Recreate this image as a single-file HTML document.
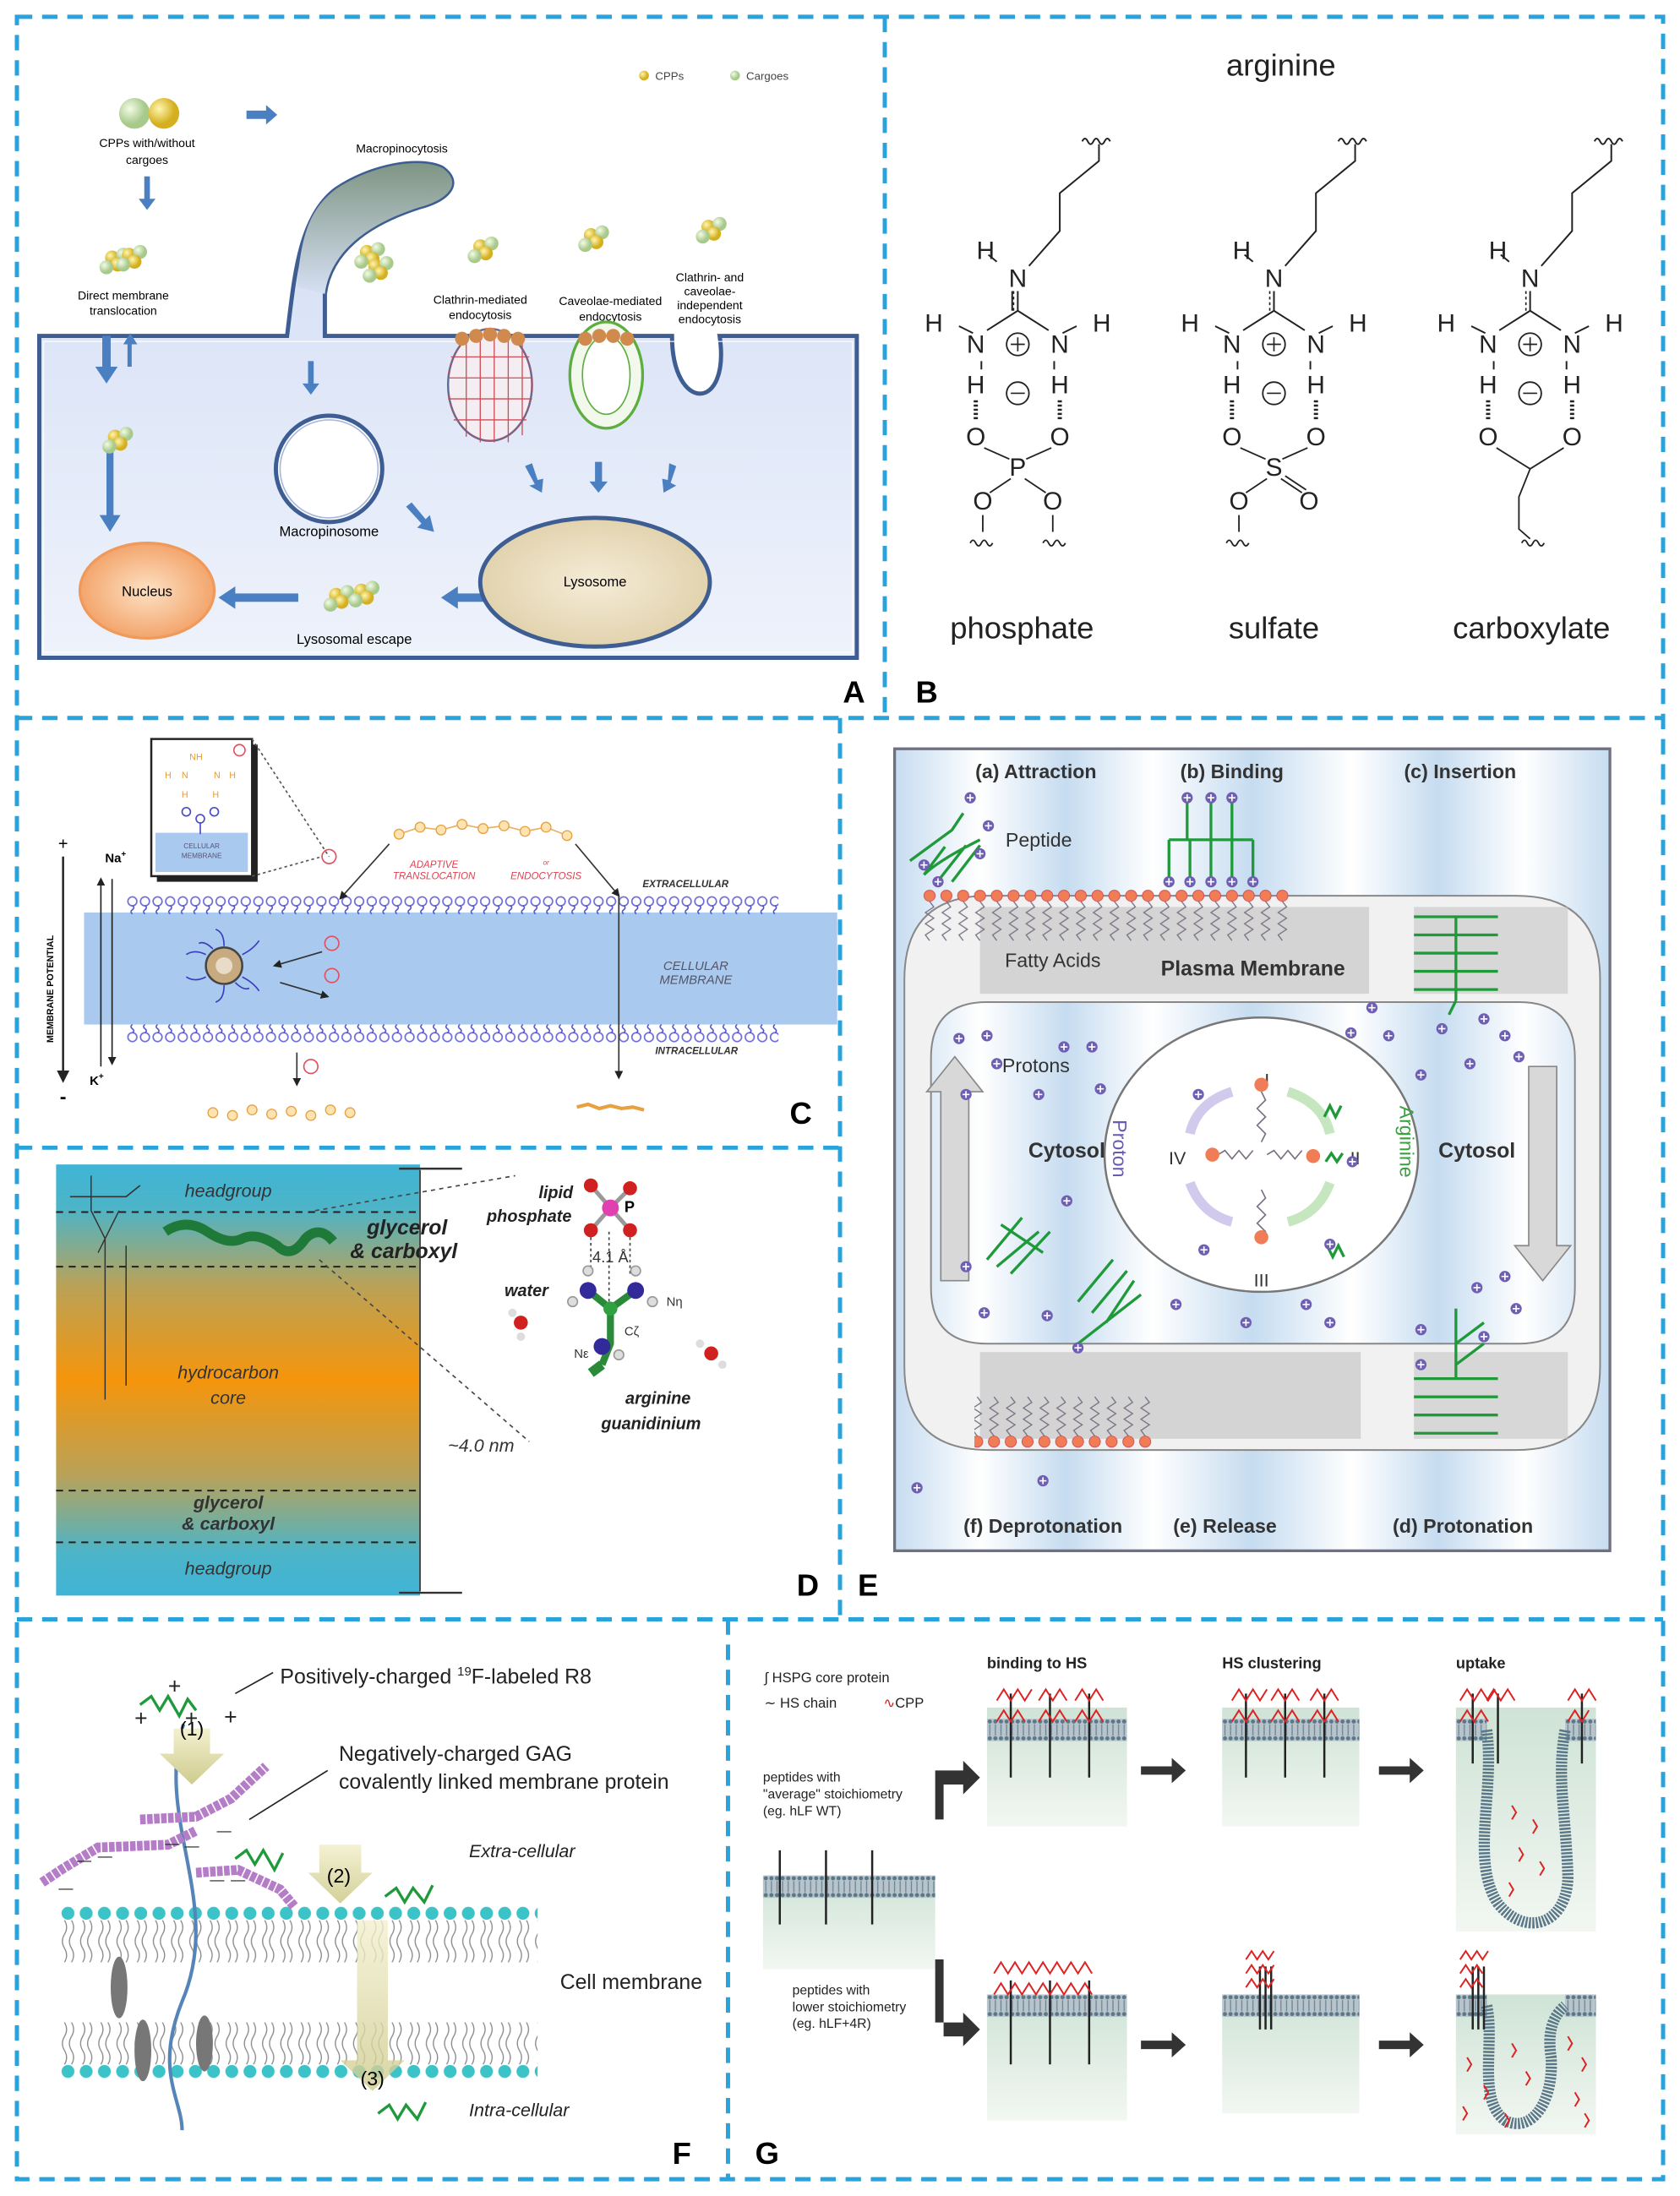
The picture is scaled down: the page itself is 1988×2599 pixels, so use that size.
<!DOCTYPE html>
<html><head><meta charset="utf-8"><style>
html,body{margin:0;padding:0;background:#fff}
svg{display:block}
text{font-family:"Liberation Sans",Arial,sans-serif}
</style></head><body>
<svg width="1988" height="2599" viewBox="0 0 1200 1569" xmlns="http://www.w3.org/2000/svg">
<defs>
<linearGradient id="cellg" x1="0" y1="0" x2="0" y2="1"><stop offset="0" stop-color="#d3def5"/><stop offset="1" stop-color="#eef2fb"/></linearGradient>
<linearGradient id="tubeg" x1="0" y1="0" x2="0" y2="1"><stop offset="0" stop-color="#7f9584"/><stop offset="1" stop-color="#d6e0f3"/></linearGradient>
<radialGradient id="nucg"><stop offset="0" stop-color="#fde1c4"/><stop offset="1" stop-color="#f3a56c"/></radialGradient>
<radialGradient id="lysg"><stop offset="0" stop-color="#f5ecd7"/><stop offset="1" stop-color="#e2d3ae"/></radialGradient>
<radialGradient id="yb" cx=".35" cy=".35"><stop offset="0" stop-color="#fff6b0"/><stop offset="1" stop-color="#d4b020"/></radialGradient>
<radialGradient id="gb" cx=".35" cy=".35"><stop offset="0" stop-color="#f4fbe6"/><stop offset="1" stop-color="#a7c98a"/></radialGradient>
<linearGradient id="dg" x1="0" y1="0" x2="0" y2="1"><stop offset="0" stop-color="#40b4d6"/><stop offset=".1" stop-color="#4cb4c8"/><stop offset=".28" stop-color="#b9a258"/><stop offset=".5" stop-color="#f5950c"/><stop offset=".72" stop-color="#b9a258"/><stop offset=".9" stop-color="#4cb4c8"/><stop offset="1" stop-color="#40b4d6"/></linearGradient>
<linearGradient id="eg" x1="0" y1="0" x2="1" y2="0"><stop offset="0" stop-color="#c6dcf0"/><stop offset=".12" stop-color="#ffffff"/><stop offset=".24" stop-color="#c6dcf0"/><stop offset=".36" stop-color="#ffffff"/><stop offset=".5" stop-color="#c6dcf0"/><stop offset=".64" stop-color="#ffffff"/><stop offset=".76" stop-color="#c6dcf0"/><stop offset=".88" stop-color="#ffffff"/><stop offset="1" stop-color="#c6dcf0"/></linearGradient>
<linearGradient id="gg" x1="0" y1="0" x2="0" y2="1"><stop offset="0" stop-color="#cfe3d6"/><stop offset="1" stop-color="#f2f7f2"/></linearGradient>
<linearGradient id="ya" x1="0" y1="0" x2="0" y2="1"><stop offset="0" stop-color="#f3f0cf"/><stop offset="1" stop-color="#cfcb8e"/></linearGradient>
<pattern id="hc" width="9" height="14" patternUnits="userSpaceOnUse"><circle cx="4.5" cy="4" r="3.2" fill="#fff" stroke="#6a6ad8" stroke-width="1"/><path d="M4.5 7 q2 1.5 0 3 q-2 1.5 0 3" fill="none" stroke="#4b4bc8" stroke-width=".9"/></pattern>
<pattern id="hcb" width="9" height="14" patternUnits="userSpaceOnUse"><circle cx="4.5" cy="10" r="3.2" fill="#fff" stroke="#6a6ad8" stroke-width="1"/><path d="M4.5 7 q2 -1.5 0 -3 q-2 -1.5 0 -3" fill="none" stroke="#4b4bc8" stroke-width=".9"/></pattern>
<pattern id="hf" width="13" height="45" patternUnits="userSpaceOnUse"><circle cx="6.5" cy="5" r="4.6" fill="#3cc3c8"/><path d="M4 10 q3 5 0 10 q-3 5 0 10 q3 5 0 10 M9 10 q3 5 0 10 q-3 5 0 10 q3 5 0 10" fill="none" stroke="#888" stroke-width=".8"/></pattern>
<pattern id="hfb" width="13" height="45" patternUnits="userSpaceOnUse"><circle cx="6.5" cy="40" r="4.6" fill="#3cc3c8"/><path d="M4 35 q3 -5 0 -10 q-3 -5 0 -10 q3 -5 0 -10 M9 35 q3 -5 0 -10 q-3 -5 0 -10 q3 -5 0 -10" fill="none" stroke="#888" stroke-width=".8"/></pattern>
<pattern id="oh" width="12" height="50" patternUnits="userSpaceOnUse"><circle cx="6" cy="5" r="4" fill="#f07d55" stroke="#c45" stroke-width=".5"/><path d="M6 9 l3 4 -6 4 6 4 -6 4 6 4 -6 4 3 4" fill="none" stroke="#7a7082" stroke-width=".8"/></pattern>
<pattern id="mb" width="4" height="16" patternUnits="userSpaceOnUse"><rect width="4" height="16" fill="#b8c4cc"/><circle cx="2" cy="2" r="1.5" fill="#5b7888"/><circle cx="2" cy="14" r="1.5" fill="#5b7888"/><line x1="2" y1="4" x2="2" y2="12" stroke="#6d8592" stroke-width=".8"/></pattern>
<marker id="ar" viewBox="0 0 10 10" refX="8" refY="5" markerWidth="6" markerHeight="6" orient="auto"><path d="M0 0 L10 5 L0 10z" fill="#222"/></marker>
<g id="ball3"><circle cx="0" cy="0" r="5" fill="url(#yb)"/><circle cx="8" cy="-2" r="5" fill="url(#gb)"/><circle cx="4" cy="5" r="5" fill="url(#yb)"/><circle cx="-4" cy="7" r="5" fill="url(#gb)"/></g>
<g id="pr"><circle r="4" fill="#6e5fb2"/><path d="M-2.5 0h5M0 -2.5v5" stroke="#fff" stroke-width="1"/></g>
</defs>

<!-- DASHED FRAME -->
<g fill="none" stroke="#29a3dc" stroke-width="3" stroke-dasharray="11 7">
<rect x="12" y="12" width="1176" height="1545"/>
<line x1="632" y1="12" x2="632" y2="510"/>
<line x1="12" y1="513" x2="1188" y2="513"/>
<line x1="600" y1="513" x2="600" y2="1155"/>
<line x1="12" y1="820" x2="600" y2="820"/>
<line x1="12" y1="1157" x2="1188" y2="1157"/>
<line x1="520" y1="1157" x2="520" y2="1557"/>
</g>

<!-- PANEL A -->
<g>
<circle cx="460" cy="54" r="3.5" fill="url(#yb)"/><text x="468" y="57" font-size="8" fill="#444">CPPs</text>
<circle cx="525" cy="54" r="3.5" fill="url(#gb)"/><text x="533" y="57" font-size="8" fill="#444">Cargoes</text>
<circle cx="96" cy="81" r="11" fill="url(#gb)"/><circle cx="117" cy="81" r="11" fill="url(#yb)"/>
<text x="105" y="105" font-size="8.5" text-anchor="middle">CPPs with/without</text><text x="105" y="117" font-size="8.5" text-anchor="middle">cargoes</text>
<g fill="#4a7fc1">
<path d="M176 79h14v-4l8 7-8 7v-4h-14z"/>
<path d="M103 126h4v16h4l-6 8-6-8h4z"/>
</g>
<use href="#ball3" x="80" y="184"/><use href="#ball3" x="92" y="182"/>
<text x="88" y="214" font-size="8.5" text-anchor="middle">Direct membrane</text><text x="88" y="225" font-size="8.5" text-anchor="middle">translocation</text>
<path d="M28 240 H205 C210 200 213 155 240 135 C265 118 300 112 316 120 C330 130 322 142 300 148 C262 160 236 180 232 210 L232 240 H480 C480 295 522 295 514 240 H612 V470 H28 Z" fill="url(#cellg)" stroke="#3d5d93" stroke-width="3"/>
<path d="M240 135 C265 118 300 112 316 120 C330 130 322 142 300 148 C262 160 236 180 232 210 L212 205 C215 170 220 150 240 135Z" fill="url(#tubeg)"/>
<path d="M31 244 H609 V466 H31 Z" fill="none" stroke="#fff" stroke-width="1" opacity=".7"/>
<text x="287" y="109" font-size="8.5" text-anchor="middle">Macropinocytosis</text>
<use href="#ball3" x="262" y="180"/><use href="#ball3" x="268" y="190"/>
<use href="#ball3" x="343" y="176"/><use href="#ball3" x="422" y="168"/><use href="#ball3" x="506" y="162"/>
<text x="343" y="217" font-size="8.5" text-anchor="middle">Clathrin-mediated</text><text x="343" y="228" font-size="8.5" text-anchor="middle">endocytosis</text>
<text x="436" y="218" font-size="8.5" text-anchor="middle">Caveolae-mediated</text><text x="436" y="229" font-size="8.5" text-anchor="middle">endocytosis</text>
<text x="507" y="201" font-size="8.5" text-anchor="middle">Clathrin- and</text><text x="507" y="211" font-size="8.5" text-anchor="middle">caveolae-</text><text x="507" y="221" font-size="8.5" text-anchor="middle">independent</text><text x="507" y="231" font-size="8.5" text-anchor="middle">endocytosis</text>
<ellipse cx="350" cy="275" rx="30" ry="40" fill="#f4eef3" stroke="#d24a55" stroke-width="1.5"/>
<g fill="none" stroke="#d24a55" stroke-width=".8"><path d="M322 255h56M320 270h60M320 285h60M324 300h52M333 240v72M343 238v78M353 238v78M363 240v76M373 245v66"/></g>
<ellipse cx="350" cy="275" rx="30" ry="40" fill="none" stroke="#5a6f98" stroke-width="1"/>
<g fill="#d08a4d"><circle cx="330" cy="242" r="5"/><circle cx="340" cy="240" r="5"/><circle cx="350" cy="239" r="5"/><circle cx="360" cy="240" r="5"/><circle cx="370" cy="242" r="5"/></g>
<ellipse cx="433" cy="268" rx="26" ry="38" fill="#f3f8ec" stroke="#5cae3e" stroke-width="2"/>
<ellipse cx="433" cy="268" rx="17" ry="28" fill="#fff" stroke="#5cae3e" stroke-width="1"/>
<g fill="#d08a4d"><circle cx="418" cy="242" r="5"/><circle cx="428" cy="240" r="5"/><circle cx="438" cy="240" r="5"/><circle cx="448" cy="242" r="5"/></g>
<g fill="#4a7fc1">
<path d="M73 240h6v22h5l-8 12-8-12h5z"/><path d="M91 262h3v-16h4l-5-8-5 8h3z"/>
<path d="M220 258h4v16h4l-6 8-6-8h4z"/>
<path d="M76 318h5v50h5l-7.5 12-7.5-12h5z"/>
<path d="M375 333l5-2 4 12 4-1-1 10-9-5 4-1z"/><path d="M425 330h5v14h4l-6.5 8-6.5-8h4z"/><path d="M478 331l5 2-4 12 4 2-9 5 -1-10 4 1z"/>
<path d="M290 362l4-3 10 12 3-3 3 12-12-3 3-3z"/>
<path d="M355 424v6h-28v5l-12-8 12-8v5z"/><path d="M213 424v6h-45v5l-12-8 12-8v5z"/>
</g>
<use href="#ball3" x="82" y="312"/>
<use href="#ball3" x="240" y="425"/><use href="#ball3" x="258" y="422"/>
<circle cx="235" cy="335" r="38" fill="#fff" stroke="#3d5d93" stroke-width="3"/>
<circle cx="235" cy="335" r="35" fill="none" stroke="#a8b8dc" stroke-width="1"/>
<text x="235" y="383" font-size="10" text-anchor="middle">Macropinosome</text>
<ellipse cx="105" cy="422" rx="48" ry="34" fill="url(#nucg)" stroke="#ef9a5a" stroke-width="2"/>
<text x="105" y="426" font-size="10" text-anchor="middle">Nucleus</text>
<ellipse cx="425" cy="416" rx="82" ry="46" fill="url(#lysg)" stroke="#3d5d93" stroke-width="3"/>
<text x="425" y="419" font-size="10" text-anchor="middle">Lysosome</text>
<text x="253" y="460" font-size="10" text-anchor="middle">Lysosomal escape</text>
<text x="610" y="502" font-size="22" font-weight="bold" text-anchor="middle">A</text>
</g>

<!-- PANEL B -->
<text x="915" y="54" font-size="22" text-anchor="middle" fill="#222">arginine</text>
<g transform="translate(727,0)" font-size="18" fill="#222" text-anchor="middle">
<g fill="none" stroke="#222" stroke-width="1.2"><path d="M8 190 L30 165 V138 L58 115 V103"/><path d="M46 101 q2 -4 4 0 q2 4 4 0 q2 -4 4 0 q2 4 4 0 q2 -4 4 0"/><path d="M-15 187 l-6 -5 M0 208 V222 M-4 208 V222 M0 222 L-22 236 M0 222 L22 236 M-26 258 V264 M26 258 V264 M-42 233 l10 5 M42 233 l-10 5"/></g>
<path d="M-3 208 V222" stroke="#222" stroke-dasharray="2 2"/>
<text x="-23" y="185">H</text><text x="0" y="205">N</text>
<text x="-30" y="252">N</text><text x="30" y="252">N</text><text x="-60" y="237">H</text><text x="60" y="237">H</text>
<circle cx="0" cy="246" r="8" fill="none" stroke="#222" stroke-width="1.1"/><path d="M-5 246h10M0 241v10" stroke="#222"/>
<text x="-30" y="281">H</text><text x="30" y="281">H</text>
<path d="M-30 286V300M30 286V300" stroke="#222" stroke-width="3" stroke-dasharray="1.5 1.5"/>
<text x="-30" y="318">O</text><text x="30" y="318">O</text>
<circle cx="0" cy="281" r="8" fill="none" stroke="#222" stroke-width="1.1"/><path d="M-5 281h10" stroke="#222"/>
<text x="0" y="340">P</text>
<g stroke="#222" fill="none" stroke-width="1.1"><path d="M-24 320 L-6 328 M24 320 L6 328 M-5 342 L-20 352 M5 342 L20 352 M-25 368 V380 M25 368 V380"/><path d="M-34 388 q2 -4 4 0 q2 4 4 0 q2 -4 4 0 q2 4 4 0 M18 388 q2 -4 4 0 q2 4 4 0 q2 -4 4 0 q2 4 4 0"/></g>
<text x="-25" y="364">O</text><text x="25" y="364">O</text>
</g>
<g transform="translate(910,0)" font-size="18" fill="#222" text-anchor="middle">
<g fill="none" stroke="#222" stroke-width="1.2"><path d="M8 190 L30 165 V138 L58 115 V103"/><path d="M46 101 q2 -4 4 0 q2 4 4 0 q2 -4 4 0 q2 4 4 0 q2 -4 4 0"/><path d="M-15 187 l-6 -5 M0 208 V222 M0 222 L-22 236 M0 222 L22 236 M-26 258 V264 M26 258 V264 M-42 233 l10 5 M42 233 l-10 5"/></g>
<path d="M-3 208 V222" stroke="#222" stroke-dasharray="2 2"/>
<text x="-23" y="185">H</text><text x="0" y="205">N</text>
<text x="-30" y="252">N</text><text x="30" y="252">N</text><text x="-60" y="237">H</text><text x="60" y="237">H</text>
<circle cx="0" cy="246" r="8" fill="none" stroke="#222" stroke-width="1.1"/><path d="M-5 246h10M0 241v10" stroke="#222"/>
<text x="-30" y="281">H</text><text x="30" y="281">H</text>
<path d="M-30 286V300M30 286V300" stroke="#222" stroke-width="3" stroke-dasharray="1.5 1.5"/>
<text x="-30" y="318">O</text><text x="30" y="318">O</text>
<circle cx="0" cy="281" r="8" fill="none" stroke="#222" stroke-width="1.1"/><path d="M-5 281h10" stroke="#222"/>
<text x="0" y="340">S</text>
<g stroke="#222" fill="none" stroke-width="1.1"><path d="M-24 320 L-6 328 M24 320 L6 328 M-5 342 L-20 352 M5 342 L20 352 M8 340 L23 350 M-25 368 V380"/><path d="M-34 388 q2 -4 4 0 q2 4 4 0 q2 -4 4 0 q2 4 4 0"/></g>
<text x="-25" y="364">O</text><text x="25" y="364">O</text>
</g>
<g transform="translate(1093,0)" font-size="18" fill="#222" text-anchor="middle">
<g fill="none" stroke="#222" stroke-width="1.2"><path d="M8 190 L30 165 V138 L58 115 V103"/><path d="M46 101 q2 -4 4 0 q2 4 4 0 q2 -4 4 0 q2 4 4 0 q2 -4 4 0"/><path d="M-15 187 l-6 -5 M0 208 V222 M0 222 L-22 236 M0 222 L22 236 M-26 258 V264 M26 258 V264 M-42 233 l10 5 M42 233 l-10 5"/></g>
<path d="M-3 208 V222" stroke="#222" stroke-dasharray="2 2"/>
<text x="-23" y="185">H</text><text x="0" y="205">N</text>
<text x="-30" y="252">N</text><text x="30" y="252">N</text><text x="-60" y="237">H</text><text x="60" y="237">H</text>
<circle cx="0" cy="246" r="8" fill="none" stroke="#222" stroke-width="1.1"/><path d="M-5 246h10M0 241v10" stroke="#222"/>
<text x="-30" y="281">H</text><text x="30" y="281">H</text>
<path d="M-30 286V300M30 286V300" stroke="#222" stroke-width="3" stroke-dasharray="1.5 1.5"/>
<text x="-30" y="318">O</text><text x="30" y="318">O</text>
<circle cx="0" cy="281" r="8" fill="none" stroke="#222" stroke-width="1.1"/><path d="M-5 281h10" stroke="#222"/>
<g stroke="#222" fill="none" stroke-width="1.1"><path d="M-24 320 L0 335 L24 320 M0 335 L-8 355 V378 L0 385"/><path d="M-6 388 q2 -4 4 0 q2 4 4 0 q2 -4 4 0 q2 4 4 0"/></g>
</g>
<g font-size="22" fill="#222" text-anchor="middle"><text x="730" y="456">phosphate</text><text x="910" y="456">sulfate</text><text x="1094" y="456">carboxylate</text></g>
<text x="662" y="502" font-size="22" font-weight="bold" text-anchor="middle">B</text>

<!-- PANEL C -->
<g>
<rect x="60" y="652" width="538" height="80" fill="#a9c9ee"/>
<rect transform="translate(90,640)" width="466" height="14" fill="url(#hc)"/>
<rect transform="translate(90,731)" width="466" height="14" fill="url(#hcb)"/>
<rect x="112" y="532" width="72" height="98" fill="#222"/>
<rect x="108" y="528" width="72" height="98" fill="#fff" stroke="#222" stroke-width="1.5"/>
<rect x="111" y="595" width="66" height="28" fill="#a9c9ee"/>
<text x="144" y="606" font-size="5" text-anchor="middle" fill="#557">CELLULAR</text><text x="144" y="613" font-size="5" text-anchor="middle" fill="#557">MEMBRANE</text>
<g font-size="6.5" fill="#e89a30" text-anchor="middle"><text x="140" y="543">NH</text><text x="120" y="556">H</text><text x="132" y="556">N</text><text x="155" y="556">N</text><text x="166" y="556">H</text><text x="132" y="570">H</text><text x="154" y="570">H</text></g>
<g fill="none" stroke="#4b4bc8" stroke-width="1"><circle cx="133" cy="580" r="3"/><circle cx="153" cy="580" r="3"/><circle cx="143" cy="585" r="3"/><path d="M143 588v8"/></g>
<circle cx="171" cy="536" r="4" fill="none" stroke="#e05060"/>
<path d="M180 528 L235 612 M180 626 L230 612" stroke="#555" stroke-dasharray="2 2" fill="none"/>
<circle cx="235" cy="612" r="5" fill="none" stroke="#e05060"/>
<g fill="none" stroke="#e8b060" stroke-width="1"><path d="M285 596 L300 591 L315 593 L330 589 L345 592 L360 590 L375 594 L390 591 L405 597"/></g>
<g fill="#fde3b0" stroke="#e8a040" stroke-width=".8"><circle cx="285" cy="596" r="3.5"/><circle cx="300" cy="591" r="3.5"/><circle cx="315" cy="593" r="3.5"/><circle cx="330" cy="589" r="3.5"/><circle cx="345" cy="592" r="3.5"/><circle cx="360" cy="590" r="3.5"/><circle cx="375" cy="594" r="3.5"/><circle cx="390" cy="591" r="3.5"/><circle cx="405" cy="597" r="3.5"/></g>
<path d="M278 603 L243 642" stroke="#333" marker-end="url(#ar)"/>
<path d="M411 603 L442 640" stroke="#333" marker-end="url(#ar)"/>
<line x1="442" y1="640" x2="442" y2="770" stroke="#333" marker-end="url(#ar)"/>
<g font-size="7" font-style="italic" fill="#e04050" text-anchor="middle"><text x="310" y="620">ADAPTIVE</text><text x="310" y="628">TRANSLOCATION</text><text x="390" y="618" font-size="5">or</text><text x="390" y="628">ENDOCYTOSIS</text></g>
<g font-size="7" font-style="italic" font-weight="bold" fill="#333"><text x="459" y="634">EXTRACELLULAR</text><text x="468" y="753">INTRACELLULAR</text></g>
<g font-size="9" font-style="italic" fill="#556" text-anchor="middle"><text x="497" y="693">CELLULAR</text><text x="497" y="703">MEMBRANE</text></g>
<circle cx="160" cy="690" r="13" fill="#c8aa80" stroke="#444" stroke-width="1.5"/><circle cx="160" cy="690" r="6" fill="#e8dcc8"/>
<g fill="none" stroke="#3b3bc0" stroke-width="1"><path d="M147 682 q-8 -4 -14 0 M147 698 q-8 4 -14 0 M160 676 q0 -10 -6 -12 M160 704 q0 10 -6 12 M173 682 q8 -4 12 -10 M173 698 q8 4 12 10 M152 678 q-6 -6 -10 -4 M168 702 q6 6 10 4"/></g>
<path d="M230 680 L196 690" stroke="#333" marker-end="url(#ar)"/><path d="M200 702 L234 712" stroke="#333" marker-end="url(#ar)"/>
<circle cx="237" cy="674" r="5" fill="none" stroke="#e05060"/><circle cx="237" cy="697" r="5" fill="none" stroke="#e05060"/>
<line x1="212" y1="752" x2="212" y2="775" stroke="#333" marker-end="url(#ar)"/><circle cx="222" cy="762" r="5" fill="none" stroke="#e05060"/>
<g fill="#fde3b0" stroke="#e8a040" stroke-width=".8"><circle cx="152" cy="795" r="3.5"/><circle cx="166" cy="797" r="3.5"/><circle cx="180" cy="793" r="3.5"/><circle cx="194" cy="796" r="3.5"/><circle cx="208" cy="794" r="3.5"/><circle cx="222" cy="797" r="3.5"/><circle cx="236" cy="793" r="3.5"/><circle cx="250" cy="795" r="3.5"/></g>
<path d="M412 791 l8 -2 8 3 8 -2 8 2 8 -1 8 2" fill="none" stroke="#e8a040" stroke-width="2.5"/>
<text x="45" y="607" font-size="12" text-anchor="middle">+</text><text x="45" y="788" font-size="14" font-weight="bold" text-anchor="middle">-</text>
<line x1="45" y1="612" x2="45" y2="772" stroke="#222" stroke-width="1.5" marker-end="url(#ar)"/>
<text transform="translate(38,745) rotate(-90)" font-size="6.5" font-weight="bold">MEMBRANE POTENTIAL</text>
<line x1="72" y1="762" x2="72" y2="628" stroke="#222" marker-end="url(#ar)"/><line x1="80" y1="628" x2="80" y2="760" stroke="#222" marker-end="url(#ar)"/>
<text x="75" y="616" font-size="9" font-weight="bold">Na<tspan font-size="6" dy="-4">+</tspan></text>
<text x="64" y="775" font-size="9" font-weight="bold">K<tspan font-size="6" dy="-4">+</tspan></text>
<text x="572" y="803" font-size="22" font-weight="bold" text-anchor="middle">C</text>
</g>

<!-- PANEL D -->
<g>
<rect x="40" y="832" width="260" height="308" fill="url(#dg)"/>
<g stroke="#222" stroke-dasharray="5 4" stroke-width="1.2"><line x1="40" y1="866" x2="300" y2="866"/><line x1="40" y1="905" x2="300" y2="905"/><line x1="40" y1="1065" x2="300" y2="1065"/><line x1="40" y1="1102" x2="300" y2="1102"/></g>
<g font-style="italic" text-anchor="middle" fill="#333"><text x="163" y="855" font-size="13">headgroup</text><text x="163" y="985" font-size="13">hydrocarbon</text><text x="163" y="1003" font-size="13">core</text><text x="163" y="1078" font-size="13" font-weight="bold">glycerol</text><text x="163" y="1093" font-size="13" font-weight="bold">&amp; carboxyl</text><text x="163" y="1125" font-size="13">headgroup</text></g>
<g font-style="italic" font-weight="bold" font-size="15" fill="#222"><text x="262" y="882">glycerol</text><text x="250" y="899">&amp; carboxyl</text></g>
<path d="M65 840 v25 l10 20 v115 M85 865 l-10 20 l-5 10 M90 890 v100" fill="none" stroke="#333" stroke-width=".9"/>
<path d="M50 855 h40 l10 -8" stroke="#333" fill="none"/>
<path d="M118 880 q15 -10 30 0 q15 10 25 5 q10 -5 25 5 q10 10 20 -5 q10 -10 20 2" fill="none" stroke="#1f7a3a" stroke-width="7"/>
<line x1="285" y1="835" x2="330" y2="835" stroke="#333" stroke-width="1.5"/><line x1="285" y1="1138" x2="330" y2="1138" stroke="#333" stroke-width="1.5"/>
<line x1="300" y1="836" x2="300" y2="1137" stroke="#333"/>
<text x="320" y="1037" font-size="13" font-style="italic" fill="#333">~4.0 nm</text>
<path d="M225 865 L368 840 M228 900 L378 1030" stroke="#444" stroke-dasharray="3 3" fill="none"/>
<g font-style="italic" font-weight="bold" font-size="12" fill="#222" text-anchor="middle"><text x="397" y="856">lipid</text><text x="378" y="873">phosphate</text><text x="376" y="926">water</text><text x="470" y="1003">arginine</text><text x="465" y="1021">guanidinium</text></g>
<text x="446" y="866" font-size="11" font-weight="bold">P</text>
<g stroke="#999" stroke-width="3"><path d="M436 863 l-14 -16 M436 863 l14 -14 M436 863 l-14 16 M436 863 l14 16"/></g>
<g stroke="#444" stroke-dasharray="2 2"><path d="M422 880 v30 M450 880 v30 M435 880 v50"/></g>
<text x="436" y="902" font-size="11" fill="#333" text-anchor="middle">4.1 Å</text>
<circle cx="436" cy="863" r="6" fill="#e040b0"/>
<g fill="#d02020"><circle cx="422" cy="847" r="5"/><circle cx="450" cy="849" r="5"/><circle cx="422" cy="879" r="5"/><circle cx="450" cy="879" r="5"/></g>
<path d="M420 922 L436 935 L454 922 M436 935 V960 L430 975" stroke="#2a8a3a" stroke-width="5" fill="none"/>
<g fill="#332a9a"><circle cx="420" cy="922" r="6"/><circle cx="454" cy="922" r="6"/><circle cx="430" cy="962" r="6"/></g>
<circle cx="436" cy="935" r="5" fill="#30a040"/><path d="M430 975 l-8 6" stroke="#2a8a3a" stroke-width="7"/>
<g fill="#ddd" stroke="#999"><circle cx="420" cy="908" r="3.5"/><circle cx="454" cy="908" r="3.5"/><circle cx="409" cy="930" r="3.5"/><circle cx="466" cy="930" r="3.5"/><circle cx="442" cy="968" r="3.5"/></g>
<circle cx="372" cy="945" r="5" fill="#d02020"/><circle cx="366" cy="938" r="3" fill="#ddd"/><circle cx="372" cy="955" r="3" fill="#ddd"/>
<circle cx="508" cy="967" r="5" fill="#d02020"/><circle cx="516" cy="975" r="3" fill="#ddd"/><circle cx="500" cy="960" r="3" fill="#ddd"/>
<text x="476" y="933" font-size="9" fill="#333">Nη</text><text x="410" y="970" font-size="9" fill="#333">Nε</text><text x="446" y="954" font-size="9" fill="#333">Cζ</text>
<text x="577" y="1140" font-size="22" font-weight="bold" text-anchor="middle">D</text>
<text x="620" y="1140" font-size="22" font-weight="bold" text-anchor="middle">E</text>
</g>

<!-- PANEL E -->
<g>
<rect x="639" y="535" width="511" height="573" fill="url(#eg)" stroke="#6f7080" stroke-width="2"/>
<path fill-rule="evenodd" d="M706 640 H1083 Q1143 640 1143 700 V976 Q1143 1036 1083 1036 H706 Q646 1036 646 976 V700 Q646 640 706 640Z M705 716 H1085 Q1125 716 1125 756 V920 Q1125 960 1085 960 H705 Q665 960 665 920 V756 Q665 716 705 716Z" fill="#f1f1f1" stroke="#888" stroke-width="1.2"/>
<rect x="700" y="648" width="278" height="62" fill="#c7c7c7" opacity=".7"/>
<rect x="700" y="966" width="272" height="62" fill="#c7c7c7" opacity=".7"/>
<rect x="1010" y="648" width="110" height="62" fill="#c7c7c7" opacity=".6"/>
<rect x="1010" y="966" width="110" height="62" fill="#c7c7c7" opacity=".6"/>
<rect transform="translate(658,635)" width="264" height="50" fill="url(#oh)"/>
<rect transform="translate(824,1035) rotate(180)" width="128" height="50" fill="url(#oh)"/>
<ellipse cx="901" cy="825" rx="112" ry="98" fill="#fff" stroke="#777" stroke-width="1.5"/>
<g font-weight="bold" font-size="14" fill="#333" text-anchor="middle"><text x="740" y="556">(a) Attraction</text><text x="880" y="556">(b) Binding</text><text x="1043" y="556">(c) Insertion</text><text x="745" y="1095">(f) Deprotonation</text><text x="875" y="1095">(e) Release</text><text x="1045" y="1095">(d) Protonation</text></g>
<g font-size="14" fill="#333" text-anchor="middle"><text x="742" y="605">Peptide</text><text x="752" y="691">Fatty Acids</text><text x="740" y="766">Protons</text></g>
<g font-size="15" font-weight="bold" fill="#333" text-anchor="middle"><text x="895" y="697">Plasma Membrane</text><text x="762" y="827">Cytosol</text><text x="1055" y="827">Cytosol</text></g>
<path d="M672 915 V780 h-10 l20 -25 20 25 h-10 V915z" fill="#d8d8d8" stroke="#888"/>
<path d="M1092 762 V890 h-10 l20 25 20 -25 h-10 V762z" fill="#d8d8d8" stroke="#888"/>
<g font-family="Liberation Serif" font-size="13" fill="#333" text-anchor="middle"><text x="905" y="776">I</text><text x="968" y="832">II</text><text x="901" y="919">III</text><text x="841" y="832">IV</text></g>
<text transform="translate(795,800) rotate(90)" font-size="14" fill="#6a5ab2">Proton</text>
<text transform="translate(1000,790) rotate(90)" font-size="14" fill="#3aa040">Arginine</text>
<g fill="none" stroke-width="7" opacity=".8"><path d="M880 780 q-25 8 -30 30" stroke="#c8bde8"/><path d="M850 845 q8 22 30 28" stroke="#c8bde8"/><path d="M920 780 q25 8 30 30" stroke="#b8e0b0"/><path d="M950 845 q-8 22 -30 28" stroke="#b8e0b0"/></g>
<g fill="none" stroke="#7a7082" stroke-width="1"><path d="M901 780 l3 6 -6 6 6 6 -6 6 6 6 -3 6"/><path d="M901 850 l3 6 -6 6 6 6 -6 6 6 6 -3 6"/><path d="M870 825 l5 -3 5 6 5 -6 5 6 5 -6"/><path d="M905 825 l5 -3 5 6 5 -6 5 6 5 -6"/></g>
<g fill="#f07d55"><circle cx="901" cy="775" r="5"/><circle cx="901" cy="884" r="5"/><circle cx="866" cy="825" r="5"/><circle cx="938" cy="826" r="5"/></g>
<g stroke="#1f9a3a" stroke-width="2" fill="none">
<path d="M660 625 l15 -20 M668 632 l22 -28 M680 630 l20 -26 M650 615 l30 -22 l8 -12 M660 625 q10 -10 40 -25"/>
<path d="M835 630 v-30 M850 630 v-30 M865 630 v-30 M880 630 v-30 M895 630 v-30 M835 600 h60 M848 600 v-30 M865 600 v-30 M880 600 v-30"/>
<path d="M1010 655 h60 M1010 668 h60 M1010 681 h60 M1010 694 h60 M1010 707 h60 M1040 655 v60 M1040 715 l-5 10"/>
<path d="M705 900 l25 -30 M712 905 l30 -25 M722 910 l28 -30 M715 875 l30 20"/>
<path d="M770 930 l25 -30 M780 938 l25 -30 M790 945 l20 -30 M770 960 l45 -35"/>
<path d="M1010 985 h60 M1010 998 h60 M1010 1011 h60 M1010 1024 h60 M1040 985 v-50 M1040 960 l20 -15 M1040 975 l20 -15"/>
<path d="M946 798 l4 -8 4 8 4 -8 M948 890 l4 8 4 -8 4 8 M947 830 l4 -6 4 6 4 -6"/>
</g>
<g>
<use href="#pr" x="660" y="618"/><use href="#pr" x="670" y="630"/><use href="#pr" x="700" y="610"/><use href="#pr" x="693" y="570"/><use href="#pr" x="706" y="590"/>
<use href="#pr" x="835" y="630"/><use href="#pr" x="850" y="630"/><use href="#pr" x="865" y="630"/><use href="#pr" x="880" y="630"/><use href="#pr" x="895" y="630"/><use href="#pr" x="848" y="570"/><use href="#pr" x="865" y="570"/><use href="#pr" x="880" y="570"/>
<use href="#pr" x="685" y="742"/><use href="#pr" x="705" y="740"/><use href="#pr" x="712" y="760"/><use href="#pr" x="760" y="748"/><use href="#pr" x="780" y="748"/><use href="#pr" x="690" y="782"/><use href="#pr" x="742" y="782"/><use href="#pr" x="786" y="778"/><use href="#pr" x="762" y="858"/><use href="#pr" x="690" y="905"/><use href="#pr" x="703" y="938"/><use href="#pr" x="748" y="940"/><use href="#pr" x="770" y="963"/><use href="#pr" x="840" y="932"/><use href="#pr" x="890" y="945"/><use href="#pr" x="933" y="932"/><use href="#pr" x="950" y="945"/>
<use href="#pr" x="980" y="720"/><use href="#pr" x="965" y="738"/><use href="#pr" x="992" y="740"/><use href="#pr" x="1030" y="735"/><use href="#pr" x="1060" y="728"/><use href="#pr" x="1075" y="740"/><use href="#pr" x="1085" y="755"/><use href="#pr" x="1050" y="760"/><use href="#pr" x="1015" y="768"/>
<use href="#pr" x="1055" y="920"/><use href="#pr" x="1075" y="912"/><use href="#pr" x="1083" y="935"/><use href="#pr" x="1015" y="950"/><use href="#pr" x="1060" y="955"/><use href="#pr" x="1015" y="975"/>
<use href="#pr" x="856" y="782"/><use href="#pr" x="966" y="830"/><use href="#pr" x="860" y="893"/><use href="#pr" x="950" y="889"/>
<use href="#pr" x="655" y="1063"/><use href="#pr" x="745" y="1058"/>
</g>
</g>

<!-- PANEL F -->
<g>
<rect transform="translate(42,1362)" width="342" height="45" fill="url(#hf)"/>
<rect transform="translate(42,1440)" width="342" height="45" fill="url(#hfb)"/>
<path d="M131 1232 C110 1300 160 1360 130 1430 C110 1480 130 1500 130 1522" fill="none" stroke="#5585b8" stroke-width="2.5"/>
<g fill="#c9b3d6" stroke="#b57cc7" stroke-width="1.5"><path d="M100 1300 L140 1298 L165 1285 L190 1262" fill="none" stroke-width="7" stroke-dasharray="4 1"/><path d="M30 1345 L45 1335 L70 1320 L120 1318 L140 1308" fill="none" stroke-width="7" stroke-dasharray="4 1"/><path d="M140 1338 L170 1336 L200 1350 L210 1362" fill="none" stroke-width="7" stroke-dasharray="4 1"/></g>
<g font-size="18" font-weight="bold" fill="#222"><text x="118" y="1316">_</text><text x="132" y="1318">_</text><text x="155" y="1307">_</text><text x="55" y="1328">_</text><text x="70" y="1325">_</text><text x="42" y="1348">_</text><text x="150" y="1342">_</text><text x="165" y="1342">_</text></g>
<path d="M124 1235 h26 v18 h10 l-23 22 -23 -22 h10z" fill="url(#ya)"/>
<text x="137" y="1240" font-size="14" text-anchor="middle">(1)</text>
<path d="M228 1318 h30 v20 h8 l-23 22 -23 -22 h8z" fill="url(#ya)" opacity=".9"/>
<text x="242" y="1345" font-size="14" text-anchor="middle">(2)</text>
<path d="M255 1372 h22 v100 h12 l-23 22 -23 -22 h12z" fill="url(#ya)" opacity=".8"/>
<text x="266" y="1490" font-size="14" text-anchor="middle">(3)</text>
<g fill="none" stroke="#1f9a3a" stroke-width="2"><path d="M100 1218 l8 -6 6 10 6 -10 8 14 6 -12 6 8"/><path d="M168 1328 l8 -6 6 10 6 -10 8 14 6 -12"/><path d="M275 1355 l8 -6 6 10 6 -10 8 10 6 -12"/><path d="M270 1510 l8 -6 6 10 6 -10 8 10 6 -12"/></g>
<g font-size="16" fill="#222"><text x="96" y="1233">+</text><text x="120" y="1210">+</text><text x="132" y="1233">+</text><text x="160" y="1232">+</text></g>
<path d="M168 1210 L195 1195" stroke="#222"/><path d="M178 1300 L234 1265" stroke="#222"/>
<text x="200" y="1203" font-size="15" fill="#222">Positively-charged <tspan font-size="9" dy="-6">19</tspan><tspan dy="6">F-labeled R8</tspan></text>
<text x="242" y="1258" font-size="15" fill="#222">Negatively-charged GAG</text>
<text x="242" y="1278" font-size="15" fill="#222">covalently linked membrane protein</text>
<text x="335" y="1327" font-size="13" font-style="italic" fill="#222">Extra-cellular</text>
<text x="400" y="1421" font-size="15" fill="#222">Cell membrane</text>
<text x="335" y="1512" font-size="13" font-style="italic" fill="#222">Intra-cellular</text>
<g fill="#777"><ellipse cx="85" cy="1420" rx="6" ry="22"/><ellipse cx="102" cy="1465" rx="6" ry="22"/><ellipse cx="146" cy="1460" rx="6" ry="20"/></g>
<text x="487" y="1546" font-size="22" font-weight="bold" text-anchor="middle">F</text>
</g>

<!-- PANEL G -->
<g>
<g fill="url(#gg)"><rect x="545" y="1340" width="123" height="67"/><rect x="705" y="1220" width="100" height="85"/><rect x="873" y="1220" width="98" height="85"/><rect x="1040" y="1220" width="100" height="160"/><rect x="705" y="1425" width="100" height="90"/><rect x="873" y="1425" width="98" height="85"/><rect x="1040" y="1425" width="100" height="100"/></g>
<rect transform="translate(545,1340)" width="123" height="16" fill="url(#mb)"/>
<rect transform="translate(705,1228)" width="100" height="16" fill="url(#mb)"/>
<rect transform="translate(873,1228)" width="98" height="16" fill="url(#mb)"/>
<rect transform="translate(705,1425)" width="100" height="16" fill="url(#mb)"/>
<rect transform="translate(873,1425)" width="98" height="16" fill="url(#mb)"/>
<rect transform="translate(1040,1228)" width="22" height="16" fill="url(#mb)"/>
<rect transform="translate(1118,1228)" width="22" height="16" fill="url(#mb)"/>
<rect transform="translate(1040,1425)" width="22" height="16" fill="url(#mb)"/>
<rect transform="translate(1118,1425)" width="22" height="16" fill="url(#mb)"/>
<g font-size="10" fill="#222"><text x="546" y="1202">∫ HSPG core protein</text><text x="546" y="1220">∼ HS chain</text><text x="631" y="1220" fill="#c22">∿<tspan fill="#222">CPP</tspan></text></g>
<g font-size="11" font-weight="bold" fill="#222"><text x="705" y="1192">binding to HS</text><text x="873" y="1192">HS clustering</text><text x="1040" y="1192">uptake</text></g>
<g font-size="9.5" fill="#222"><text x="545" y="1273">peptides with</text><text x="545" y="1285">"average" stoichiometry</text><text x="545" y="1297">(eg. hLF WT)</text><text x="566" y="1425">peptides with</text><text x="566" y="1437">lower stoichiometry</text><text x="566" y="1449">(eg. hLF+4R)</text></g>
<path d="M1062 1236 C1068 1280 1050 1330 1070 1360 C1090 1385 1120 1375 1120 1340 C1118 1290 1112 1270 1118 1236" fill="none" stroke="#5b7888" stroke-width="8" stroke-dasharray="1.5 1"/>
<path d="M1062 1433 C1068 1460 1055 1500 1075 1515 C1095 1525 1110 1500 1108 1470 C1105 1450 1110 1440 1118 1433" fill="none" stroke="#5b7888" stroke-width="8" stroke-dasharray="1.5 1"/>
<g stroke="#222" stroke-width="1.5"><path d="M557 1322V1375M590 1322V1375M623 1322V1375M722 1210V1270M750 1210V1270M778 1210V1270M890 1210V1270M918 1210V1270M946 1210V1270M1052 1210V1260M1070 1210V1260M1130 1210V1260M722 1415V1475M750 1415V1475M778 1415V1475M900 1405V1450M904 1405V1450M908 1405V1450M1052 1405V1450M1056 1405V1450M1060 1405V1450"/></g>
<g fill="none" stroke="#d22" stroke-width="1.2">
<path d="M712 1215 l5 -8 5 8 5 -8 5 8 5 -8 M712 1230 l5 -8 5 8 5 -8 5 8 M742 1215 l5 -8 5 8 5 -8 5 8 M742 1230 l5 -8 5 8 5 -8 5 8 M768 1215 l5 -8 5 8 5 -8 5 8 M768 1230 l5 -8 5 8 5 -8 5 8"/>
<path d="M880 1215 l5 -8 5 8 5 -8 5 8 5 -8 M880 1230 l5 -8 5 8 5 -8 5 8 M908 1215 l5 -8 5 8 5 -8 5 8 M908 1230 l5 -8 5 8 5 -8 5 8 M936 1215 l5 -8 5 8 5 -8 5 8 M936 1230 l5 -8 5 8 5 -8 5 8"/>
<path d="M1043 1215 l5 -8 5 8 5 -8 5 8 5 -8 M1043 1230 l5 -8 5 8 5 -8 5 8 M1062 1215 l5 -8 5 8 5 -8 5 8 M1120 1215 l5 -8 5 8 5 -8 5 8 M1120 1230 l5 -8 5 8 5 -8"/>
<path d="M1080 1290 l3 5 -3 5 M1095 1300 l3 5 -3 5 M1085 1320 l3 5 -3 5 M1100 1330 l3 5 -3 5 M1078 1345 l3 5 -3 5"/>
<path d="M710 1410 l5 -8 5 8 5 -8 5 8 5 -8 5 8 5 -8 5 8 5 -8 5 8 5 -8 5 8 5 -8 5 8 M710 1425 l5 -8 5 8 5 -8 5 8 5 -8 5 8 5 -8 5 8 5 -8 5 8 5 -8 5 8 5 -8 5 8"/>
<path d="M890 1400 l4 -6 4 6 4 -6 4 6 4 -6 M890 1410 l4 -6 4 6 4 -6 4 6 4 -6 M890 1420 l4 -6 4 6 4 -6 4 6 4 -6"/>
<path d="M1043 1400 l4 -6 4 6 4 -6 4 6 4 -6 M1043 1410 l4 -6 4 6 4 -6 4 6 M1043 1420 l4 -6 4 6 4 -6 4 6"/>
<path d="M1048 1470 l3 5 -3 5 M1060 1490 l3 5 -3 5 M1080 1460 l3 5 -3 5 M1090 1480 l3 5 -3 5 M1120 1455 l3 5 -3 5 M1130 1470 l3 5 -3 5 M1125 1495 l3 5 -3 5 M1075 1510 l3 5 -3 5 M1045 1505 l3 5 -3 5 M1132 1510 l3 5 -3 5"/>
</g>
<g fill="#333"><path d="M668 1300 V1265 H688 V1258 L700 1270 688 1282 V1275 H674 V1300z"/><path d="M668 1400 V1445 H688 V1438 L700 1450 688 1462 V1455 H674 V1400z"/>
<path d="M815 1262 h22 v-6 l10 9 -10 9 v-6 h-22z"/><path d="M985 1262 h22 v-6 l10 9 -10 9 v-6 h-22z"/><path d="M815 1458 h22 v-6 l10 9 -10 9 v-6 h-22z"/><path d="M985 1458 h22 v-6 l10 9 -10 9 v-6 h-22z"/></g>
<text x="548" y="1546" font-size="22" font-weight="bold" text-anchor="middle">G</text>
</g>
</svg>
</body></html>
